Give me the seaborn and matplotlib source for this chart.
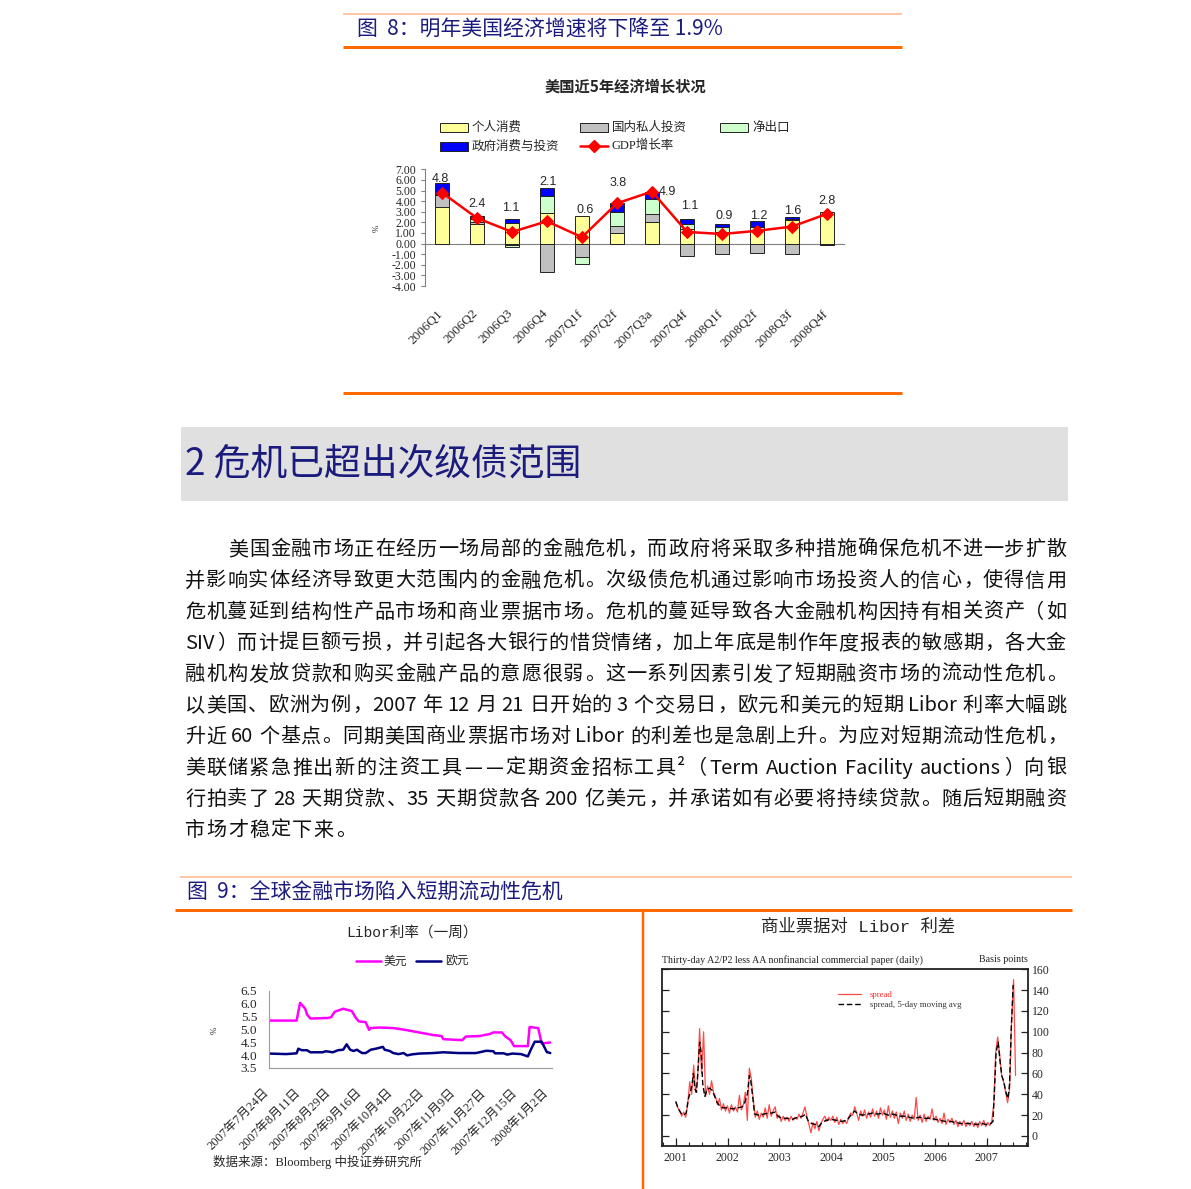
import re
import numpy as np
import pandas as pd
import matplotlib
matplotlib.use('Agg')
import matplotlib.pyplot as plt
from matplotlib.patches import Rectangle
from matplotlib.transforms import ScaledTranslation
from matplotlib.ticker import FormatStrFormatter, MultipleLocator
import seaborn as sns

sns.set_theme(style='white')
CJK = ['Noto Sans CJK SC', 'DejaVu Sans']
SERIF = ['Liberation Serif', 'Noto Sans CJK SC']
MONO = ['Liberation Mono', 'Noto Sans CJK SC']
plt.rcParams['font.family'] = CJK
plt.rcParams['axes.unicode_minus'] = False

W, H = 1191, 1189
NAVY = '#1b1b7e'
ORANGE = '#ff6a00'
PALE = '#ffb48c'

# ---- figure 8: contributions to US GDP growth ----
quarters = ['2006Q1', '2006Q2', '2006Q3', '2006Q4', '2007Q1f', '2007Q2f',
            '2007Q3a', '2007Q4f', '2008Q1f', '2008Q2f', '2008Q3f', '2008Q4f']
consumption = [3.4, 1.8, 1.9, 2.9, 2.6, 1.0, 2.0, 1.4, 1.1, 1.3, 2.2, 3.0]
investment = [1.2, 0.2, -0.1, -2.7, -1.3, 0.7, 0.8, -1.15, -0.95, -0.9, -0.95, 0.0]
net_exports = [0.1, 0.3, -0.2, 1.6, -0.6, 1.3, 1.4, 0.4, 0.5, 0.3, 0.15, 0.0]
government = [1.0, 0.3, 0.4, 0.7, 0.0, 0.8, 0.7, 0.5, 0.2, 0.5, 0.2, -0.15]
gdp_growth = [4.8, 2.4, 1.1, 2.1, 0.6, 3.8, 4.9, 1.1, 0.9, 1.2, 1.6, 2.8]
part_names = ['个人消费', '国内私人投资', '净出口', '政府消费与投资']
part_colors = ['#ffff99', '#c0c0c0', '#ccffcc', '#0000ff']
# label offsets (pixels) from the GDP point
label_dx = [-2, 0, -1, 1, 3, 1, 15, 3, 2, 2, 1, 0]
label_dy = [14, 14, 24, 39, 27, 20, 0, 26, 18, 15, 16, 13]

# ---- figure 9 left: 1-week Libor ----
libor_start = '2007-07-24'
usd_day = [0, 16, 18, 21, 22, 24, 34, 36, 38, 43, 48, 50, 52, 56, 58, 59, 64, 72, 79, 87,
           95, 100, 101, 112, 114, 122, 128, 130, 135, 137, 140, 142, 150, 151, 156, 158, 163]
usd_rate = [5.34, 5.34, 6.03, 5.80, 5.58, 5.42, 5.44, 5.47, 5.68, 5.80, 5.71, 5.48, 5.31, 5.28,
            4.98, 5.05, 5.07, 5.05, 4.98, 4.88, 4.78, 4.74, 4.62, 4.58, 4.72, 4.74, 4.82, 4.88,
            4.88, 4.72, 4.58, 4.35, 4.35, 5.09, 5.05, 4.45, 4.49]
eur_day = [0, 10, 16, 17, 19, 22, 24, 31, 33, 37, 40, 43, 45, 47, 49, 51, 52, 54, 56, 59,
           62, 66, 67, 70, 72, 75, 78, 80, 83, 87, 95, 101, 110, 120, 126, 130, 131, 136, 138,
           141, 146, 150, 152, 154, 158, 161, 163]
eur_rate = [4.06, 4.04, 4.07, 4.25, 4.19, 4.19, 4.11, 4.11, 4.15, 4.11, 4.19, 4.21, 4.42, 4.21,
            4.16, 4.21, 4.16, 4.08, 4.08, 4.21, 4.25, 4.32, 4.21, 4.16, 4.08, 4.04, 4.08, 3.99,
            4.03, 4.06, 4.08, 4.11, 4.08, 4.08, 4.17, 4.15, 4.07, 4.07, 4.02, 4.06, 4.04, 3.95,
            4.25, 4.52, 4.52, 4.12, 4.08]

# ---- figure 9 right: CP spread over Libor (basis points) ----
spread_start = '2001-01-01'   # sampled every 14 days
spread_bp = [33, 27, 24, 19, 23, 18, 30, 52, 40, 68,
             42, 55, 103, 60, 100, 38, 48, 40, 53, 42,
             38, 30, 36, 25, 31, 24, 29, 22, 30, 24,
             28, 23, 39, 25, 30, 42, 15, 65, 55, 35,
             18, 24, 16, 22, 18, 27, 17, 30, 19, 24,
             28, 17, 20, 14, 19, 15, 18, 14, 19, 15,
             18, 16, 21, 17, 22, 28, 18, 11, 3, 13,
             7, 14, 5, 12, 16, 19, 14, 18, 15, 19,
             13, 18, 11, 16, 12, 15, 12, 18, 22, 20,
             28, 22, 15, 24, 19, 25, 17, 23, 18, 26,
             19, 24, 17, 27, 20, 25, 16, 29, 18, 24,
             17, 23, 12, 22, 17, 24, 15, 21, 14, 20,
             16, 37, 15, 20, 13, 21, 14, 19, 16, 26,
             15, 19, 13, 17, 12, 22, 11, 16, 13, 17,
             11, 15, 9, 14, 10, 15, 9, 13, 10, 14,
             9, 13, 8, 14, 10, 15, 9, 13, 10, 14,
             30, 80, 95, 78, 58, 52, 42, 32, 45, 110,
             150, 58]
ma_year = [2001.00, 2001.05, 2001.10, 2001.15, 2001.20, 2001.24, 2001.28, 2001.31, 2001.34,
           2001.37, 2001.40, 2001.44, 2001.46, 2001.49, 2001.52, 2001.56, 2001.60, 2001.65,
           2001.70, 2001.75, 2001.80, 2001.86, 2001.92, 2002.00, 2002.10, 2002.20, 2002.28,
           2002.33, 2002.38, 2002.42, 2002.45, 2002.49, 2002.52, 2002.60, 2002.70, 2002.78,
           2002.85, 2002.92, 2002.97, 2003.05, 2003.15, 2003.25, 2003.35, 2003.45, 2003.50,
           2003.55, 2003.62, 2003.70, 2003.76, 2003.82, 2003.90, 2004.00, 2004.10, 2004.20,
           2004.30, 2004.38, 2004.45, 2004.52, 2004.60, 2004.70, 2004.80, 2004.90, 2005.00,
           2005.10, 2005.20, 2005.30, 2005.40, 2005.50, 2005.60, 2005.70, 2005.80, 2005.90,
           2006.00, 2006.10, 2006.20, 2006.30, 2006.40, 2006.50, 2006.60, 2006.70, 2006.80,
           2006.90, 2007.00, 2007.08, 2007.12, 2007.15, 2007.18, 2007.22, 2007.26, 2007.29,
           2007.33, 2007.37, 2007.41, 2007.44, 2007.47, 2007.51]
ma_bp = [33, 26, 22, 20, 22, 35, 42, 48, 60, 45, 42, 72, 90, 80, 50, 38, 44, 46, 44, 38, 32,
         28, 27, 27, 26, 27, 28, 32, 40, 58, 52, 35, 21, 20, 21, 22, 22, 23, 19, 17, 17, 16,
         18, 19, 21, 15, 12, 11, 9, 13, 15, 16, 15, 14, 15, 20, 24, 21, 20, 21, 22, 21, 22,
         20, 21, 19, 19, 18, 17, 18, 17, 17, 16, 15, 14, 14, 13, 12, 12, 12, 11, 12, 11, 12,
         14, 45, 80, 90, 70, 58, 52, 42, 36, 50, 100, 145]

# ---- body text ----
body_lines = [
    '美国金融市场正在经历一场局部的金融危机，而政府将采取多种措施确保危机不进一步扩散',
    '并影响实体经济导致更大范围内的金融危机。次级债危机通过影响市场投资人的信心，使得信用',
    '危机蔓延到结构性产品市场和商业票据市场。危机的蔓延导致各大金融机构因持有相关资产（如',
    'SIV）而计提巨额亏损，并引起各大银行的惜贷情绪，加上年底是制作年度报表的敏感期，各大金',
    '融机构发放贷款和购买金融产品的意愿很弱。这一系列因素引发了短期融资市场的流动性危机。',
    '以美国、欧洲为例，2007 年 12 月 21 日开始的 3 个交易日，欧元和美元的短期 Libor 利率大幅跳',
    '升近 60 个基点。同期美国商业票据市场对 Libor 的利差也是急剧上升。为应对短期流动性危机，',
    '美联储紧急推出新的注资工具——定期资金招标工具²（Term Auction Facility auctions）向银',
    '行拍卖了 28 天期贷款、35 天期贷款各 200 亿美元，并承诺如有必要将持续贷款。随后短期融资',
    '市场才稳定下来。',
]

fig = plt.figure(figsize=(W / 100, H / 100), dpi=100)
page = fig.add_axes([0, 0, 1, 1])
page.set_xlim(0, W)
page.set_ylim(H, 0)
page.axis('off')


def rect(x0, y0, x1, y1):
    return [x0 / W, 1 - y1 / H, (x1 - x0) / W, (y1 - y0) / H]


def hline(y, x0, x1, color, px):
    page.plot([x0, x1], [y, y], color=color, lw=px * 0.72, solid_capstyle='butt')


# headers and rules
hline(14, 343, 902, PALE, 1.5)
page.text(357, 30, '图  8：明年美国经济增速将下降至 1.9%', fontsize=15, color=NAVY, va='center')
hline(47, 343, 902, ORANGE, 3)
hline(393, 343, 902, ORANGE, 3)
page.add_patch(Rectangle((181, 427), 887, 74, facecolor='#e0e0e0', lw=0))
page.text(185, 464, '2 危机已超出次级债范围', fontsize=26.5, color=NAVY, va='center', fontweight='medium')
hline(877, 180, 1072, PALE, 1.5)
page.text(187, 893, '图  9：全球金融市场陷入短期流动性危机', fontsize=15, color=NAVY, va='center')
hline(910, 175, 1072, ORANGE, 3)
page.plot([643, 643], [910, 1189], color=ORANGE, lw=2.5 * 0.72)

# ---- chart 1 ----
page.text(625, 87, '美国近5年经济增长状况', fontsize=11, fontweight='bold', ha='center', va='center')
key_pos = [(440, 127), (580, 127), (720, 127), (440, 146)]
for (kx, ky), name, c in zip(key_pos, part_names, part_colors):
    page.add_patch(Rectangle((kx, ky - 4.5), 28, 9, facecolor=c, edgecolor='#222', lw=0.7))
    page.text(kx + 32, ky, name, fontsize=9, va='center')
page.plot([580, 608], [146, 146], color='red', lw=1.8)
page.plot([594], [146], 'D', color='red', ms=6)
page.text(612, 146, 'GDP增长率', fontsize=9, family=SERIF, va='center')
page.text(377, 228, '%', fontsize=6.5, family=SERIF, rotation=90, ha='center', va='center')

ax1 = fig.add_axes(rect(424.5, 169.3, 844.5, 286))
ax1.patch.set_alpha(0)
x = np.arange(len(quarters))
pos_base = np.zeros(len(x))
neg_base = np.zeros(len(x))
for vals, c in zip([consumption, investment, net_exports, government], part_colors):
    v = np.array(vals, dtype=float)
    bottom = np.where(v >= 0, pos_base, neg_base)
    m = v != 0
    ax1.bar(x[m], v[m], width=0.4, bottom=bottom[m], color=c, edgecolor='#222', lw=0.7, zorder=2)
    pos_base += np.clip(v, 0, None)
    neg_base += np.clip(v, None, 0)
ax1.axhline(0, color='#808080', lw=0.8, zorder=1)
sns.lineplot(x=x, y=gdp_growth, ax=ax1, color='red', lw=1.8, marker='D', markersize=6,
             markeredgecolor='red', zorder=3)
for i, v in enumerate(gdp_growth):
    ax1.annotate(f'{v:.1f}', (i, v), xytext=(label_dx[i], label_dy[i]), textcoords='offset pixels',
                 ha='center', va='center', fontsize=9, family='Liberation Sans', zorder=4)
ax1.set_xlim(-0.5, 11.5)
ax1.set_ylim(-4, 7)
ax1.set_yticks(np.arange(-4, 8))
ax1.yaxis.set_major_formatter(FormatStrFormatter('%.2f'))
for s in ['top', 'right', 'bottom']:
    ax1.spines[s].set_visible(False)
ax1.spines['left'].set_color('#808080')
ax1.spines['left'].set_linewidth(0.8)
ax1.tick_params(axis='y', left=True, length=3, width=0.8, color='#808080', pad=3, labelsize=8.5)
ax1.set_xticks(x)
ax1.set_xticklabels(quarters, rotation=45, ha='right', va='top', rotation_mode='anchor', fontsize=9.5)
ax1.tick_params(axis='x', length=0, pad=15.5)
for lbl in ax1.get_yticklabels() + ax1.get_xticklabels():
    lbl.set_family(SERIF)
for lbl in ax1.get_xticklabels():
    lbl.set_transform(lbl.get_transform() + ScaledTranslation(-0.05, 0, fig.dpi_scale_trans))

# ---- body text, justified ----
BODY_PT = 14.5


def body_line(y, x0, x1, s, justify):
    em = BODY_PT * 100 / 72
    r = fig.canvas.get_renderer()
    items = []
    space = False
    for tok in re.findall(r'[A-Za-z0-9.²]+|\s+|.', s):
        if tok.isspace():
            space = True
            continue
        if len(tok) == 1 and (ord(tok) >= 0x2E80 or tok == '—'):
            items.append(('cjk', tok, em, space))
        else:
            t = page.text(0, 0, tok, fontsize=BODY_PT)
            w = t.get_window_extent(r).width
            t.remove()
            items.append(('lat', tok, w + 1.5, space))
        space = False
    gaps = [4.0 if it[3] else 0.0 for it in items[1:]]
    natural = sum(it[2] for it in items) + sum(gaps)
    extra = (x1 - x0 - natural) / (len(items) - 1) if justify else 1.3
    xx = x0
    base = y + 0.36 * em
    kw = dict(fontsize=BODY_PT, va='baseline', color='#111111')
    for k, (kind, tok, w, _) in enumerate(items):
        if k:
            xx += gaps[k - 1] + extra
        if kind == 'cjk':
            if tok in '，。、：；）':
                page.text(xx + 1, base, tok, ha='left', **kw)
            elif tok == '（':
                page.text(xx + w - 1, base, tok, ha='right', **kw)
            else:
                page.text(xx + w / 2, base, tok, ha='center', **kw)
        else:
            page.text(xx, base, tok, ha='left', **kw)
        xx += w


for k, line in enumerate(body_lines):
    body_line(548 + 31.2 * k, 228 if k == 0 else 185, 1066, line, k < len(body_lines) - 1)

# ---- chart 2: Libor ----
page.text(412, 933, 'Libor利率（一周）', fontsize=10.5, family=MONO, ha='center', va='center')
page.plot([356, 381], [961, 961], color='#ff00ff', lw=1.8)
page.text(384, 961, '美元', fontsize=8.5, va='center')
page.plot([416, 441], [961, 961], color='#000080', lw=1.8)
page.text(445, 961, '欧元', fontsize=8.5, va='center')
page.text(215, 1030, '%', fontsize=6.5, family=SERIF, rotation=90, ha='center', va='center')
page.text(213, 1162, '数据来源：Bloomberg 中投证券研究所', fontsize=9, family=SERIF, va='center')

t0 = pd.Timestamp(libor_start)
usd_dates = t0 + pd.to_timedelta(usd_day, unit='D')
eur_dates = t0 + pd.to_timedelta(eur_day, unit='D')
ax2 = fig.add_axes(rect(269, 990.7, 552, 1068))
ax2.patch.set_alpha(0)
sns.lineplot(x=usd_dates, y=usd_rate, ax=ax2, color='#ff00ff', lw=1.8)
sns.lineplot(x=eur_dates, y=eur_rate, ax=ax2, color='#000080', lw=1.8)
ax2.set_xlim(t0, t0 + pd.Timedelta(days=164))
ax2.set_ylim(3.5, 6.5)
ax2.set_yticks(np.arange(3.5, 6.6, 0.5))
ax2.yaxis.set_major_formatter(FormatStrFormatter('%.1f'))
tick_dates = pd.date_range(t0, '2008-01-02', freq='18D')
ax2.set_xticks(tick_dates)
ax2.set_xticklabels([f'{d.year}年{d.month}月{d.day}日' for d in tick_dates], rotation=45,
                    ha='right', va='top', rotation_mode='anchor', fontsize=9)
ax2.set_xlabel('')
ax2.set_ylabel('')
for s in ['top', 'right']:
    ax2.spines[s].set_visible(False)
for s in ['left', 'bottom']:
    ax2.spines[s].set_color('#9a9a9a')
    ax2.spines[s].set_linewidth(0.8)
ax2.tick_params(axis='y', length=0, pad=8.5, labelsize=9.5)
ax2.tick_params(axis='x', length=0, pad=13.5)
for lbl in ax2.get_yticklabels() + ax2.get_xticklabels():
    lbl.set_family(SERIF)
for lbl in ax2.get_xticklabels():
    lbl.set_transform(lbl.get_transform() + ScaledTranslation(-0.06, 0, fig.dpi_scale_trans))

# ---- chart 3: commercial paper spread ----
page.text(858, 927, '商业票据对 Libor 利差', fontsize=12.5, family=MONO, ha='center', va='center')
page.text(662, 960, 'Thirty-day A2/P2 less AA nonfinancial commercial paper (daily)',
          fontsize=7.2, family=SERIF, va='center', color='#222222')
page.text(1028, 960, 'Basis points', fontsize=7.2, family=SERIF, ha='right', va='center', color='#222222')

sd = pd.date_range(spread_start, periods=len(spread_bp), freq='14D')
spread_year = sd.year + (sd.dayofyear - 1) / 365.25
ax3 = fig.add_axes(rect(662.3, 969.3, 1027.7, 1146))
ax3.patch.set_alpha(0)
sns.lineplot(x=spread_year, y=spread_bp, ax=ax3, color='#ff2a2a', lw=0.9, alpha=0.85, label='spread')
sns.lineplot(x=ma_year, y=ma_bp, ax=ax3, color='black', lw=1.0, dashes=False, label='spread, 5-day moving avg')
ax3.lines[1].set_dashes([4, 2])
ax3.set_xlim(2000.74, 2007.79)
ax3.set_ylim(-9.6, 160)
ax3.set_xticks(range(2001, 2008))
ax3.xaxis.set_minor_locator(MultipleLocator(0.25))
ax3.set_yticks(range(0, 161, 20))
ax3.yaxis.tick_right()
ax3.tick_params(axis='y', which='major', direction='in', left=True, right=True, labelleft=False,
                labelright=True, length=5, width=0.9, color='#222', pad=3, labelsize=8.5)
ax3.tick_params(axis='x', which='major', direction='in', bottom=True, length=6, width=0.9,
                color='#222', pad=4, labelsize=8.5)
ax3.tick_params(axis='x', which='minor', direction='in', bottom=True, length=3, width=0.8, color='#222')
for s in ax3.spines.values():
    s.set_visible(True)
    s.set_color('#222222')
    s.set_linewidth(1.3)
for lbl in ax3.get_yticklabels() + ax3.get_xticklabels():
    lbl.set_family(SERIF)
ax3.set_xlabel('')
ax3.set_ylabel('')
leg = ax3.legend(loc='upper left', bbox_to_anchor=(0.47, 0.905), frameon=False, fontsize=6.3,
                 handlelength=2.6, borderpad=0, labelspacing=0.25, handletextpad=1.0,
                 prop={'family': SERIF, 'size': 6.3})
leg.get_texts()[0].set_color('#ff2a2a')
leg.get_texts()[1].set_color('#333333')
leg.get_lines()[1].set_dashes([4, 2])

fig.savefig('out.png', dpi=100)
